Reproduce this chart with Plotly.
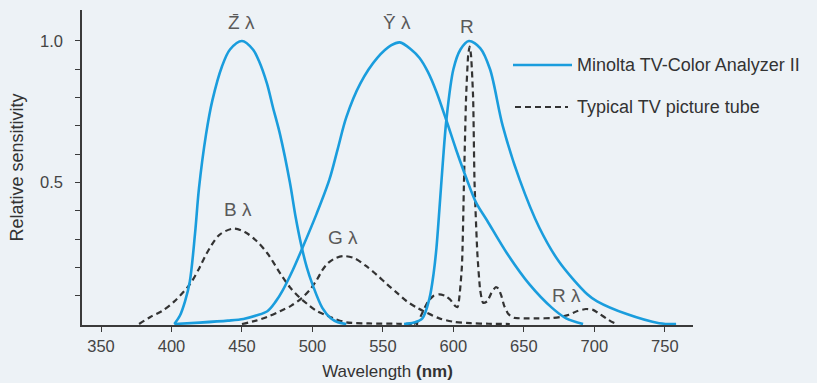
import plotly.graph_objects as go

# ---- data ----
z_wl = [402, 406, 409.6, 413, 416.7, 419.5, 424.5, 429, 435.8, 441.5, 450, 457.8, 462, 467.7, 472, 477, 484, 488, 492, 496, 500, 507, 513, 518, 524]
z_val = [0, 0.03, 0.08, 0.15, 0.32, 0.48, 0.67, 0.79, 0.91, 0.97, 1.0, 0.97, 0.93, 0.85, 0.765, 0.67, 0.5, 0.38, 0.28, 0.2, 0.14, 0.057, 0.02, 0.006, 0]

y_wl = [402, 420, 440, 451, 460, 468, 474, 479, 486, 493, 503, 512, 518, 524, 534, 546, 556, 562, 570, 576, 582, 588, 595, 602, 609.6, 616, 624, 638, 654, 670, 680, 692]
y_val = [0, 0.005, 0.012, 0.018, 0.03, 0.045, 0.08, 0.12, 0.19, 0.27, 0.39, 0.51, 0.62, 0.73, 0.85, 0.94, 0.985, 0.995, 0.97, 0.94, 0.89, 0.82, 0.72, 0.615, 0.51, 0.43, 0.365, 0.25, 0.14, 0.057, 0.02, 0]

r_wl = [565, 572, 578, 583, 586, 588, 590, 592.5, 595, 600, 605, 611, 619, 626, 635, 647, 661, 675, 695, 702, 723, 746, 758]
r_val = [0, 0.005, 0.02, 0.09, 0.18, 0.27, 0.4, 0.57, 0.72, 0.9, 0.97, 1.0, 0.975, 0.9, 0.7, 0.51, 0.34, 0.22, 0.105, 0.08, 0.035, 0.003, 0]

b_wl = [377, 385, 393, 402, 413, 420, 425, 434, 444, 452, 460, 468, 477, 484, 491, 497, 503, 509, 515, 524, 540, 560, 575]
b_val = [0, 0.025, 0.045, 0.08, 0.14, 0.2, 0.25, 0.315, 0.337, 0.325, 0.295, 0.25, 0.18, 0.13, 0.093, 0.068, 0.046, 0.032, 0.02, 0.006, 0.002, 0.001, 0]

g_wl = [450, 460, 468, 477, 485, 492, 498, 503, 507, 511, 516, 522, 530, 538, 546, 553, 560, 567, 574, 581, 590, 600, 612, 625, 640]
g_val = [0, 0.012, 0.025, 0.045, 0.065, 0.09, 0.12, 0.155, 0.19, 0.215, 0.232, 0.24, 0.232, 0.205, 0.172, 0.14, 0.11, 0.08, 0.058, 0.04, 0.02, 0.008, 0.003, 0.001, 0]

rp_wl = [572, 575, 578, 582, 586, 590, 594, 598, 601, 603, 606, 607.5, 609, 610.5, 611.5, 612.5, 614, 615, 617, 619, 621, 624, 627, 630, 632, 634, 636, 639, 643, 650, 660, 670, 676, 682, 688, 694, 699, 704, 709, 713, 716]
rp_val = [0, 0.01, 0.04, 0.08, 0.1, 0.105, 0.1, 0.085, 0.065, 0.06, 0.2, 0.5, 0.8, 0.95, 0.98, 0.95, 0.8, 0.5, 0.25, 0.12, 0.075, 0.08, 0.11, 0.13, 0.125, 0.1, 0.065, 0.035, 0.022, 0.02, 0.02, 0.021, 0.025, 0.033, 0.046, 0.053, 0.05, 0.035, 0.018, 0.006, 0]

x_ticks = [350, 400, 450, 500, 550, 600, 650, 700, 750]
y_ticks = [0.1, 0.2, 0.3, 0.4, 0.5, 0.6, 0.7, 0.8, 0.9, 1.0]
y_ticktext = ["", "", "", "", "0.5", "", "", "", "", "1.0"]

curve_labels = ["Z\u0304 \u03bb", "Y\u0304 \u03bb", "R", "B \u03bb", "G \u03bb", "R \u03bb"]
label_x = [450, 560, 610, 447, 522, 680.5]
label_y = [1.064, 1.064, 1.05, 0.403, 0.304, 0.102]

legend_names = ["Minolta TV-Color Analyzer II", "Typical TV picture tube"]

# ---- styles ----
BLUE = "#1a9ddd"
DARK = "#333333"
BG = "#edf2f6"
FONT = "Liberation Sans, Arial, sans-serif"

fig = go.Figure()

def solid(x, y):
    fig.add_trace(go.Scatter(x=x, y=y, mode="lines", showlegend=False,
                             line=dict(color=BLUE, width=2.6, shape="spline", smoothing=0.9),
                             hoverinfo="skip"))

def dashed(x, y, smooth=0.9):
    fig.add_trace(go.Scatter(x=x, y=y, mode="lines", showlegend=False,
                             line=dict(color=DARK, width=2.2, dash="6px,4px", shape="spline", smoothing=smooth),
                             hoverinfo="skip"))

dashed(b_wl, b_val)
dashed(g_wl, g_val)
dashed(rp_wl, rp_val, 0.5)
solid(z_wl, z_val)
solid(y_wl, y_val)
solid(r_wl, r_val)

for t, x, y in zip(curve_labels, label_x, label_y):
    fig.add_annotation(x=x, y=y, xref="x", yref="y", text=t, showarrow=False,
                       font=dict(family=FONT, size=19, color="#5a5a5a"))

# legend drawn as decoration
px0, pw, py0, ph = 82, 611, 325, 315
def pxx(p):
    return (p - px0) / pw
def pyy(p):
    return (py0 - p) / ph

fig.add_shape(type="line", xref="paper", yref="paper", x0=pxx(513), x1=pxx(572), y0=pyy(65), y1=pyy(65),
              line=dict(color=BLUE, width=2.6))
fig.add_shape(type="line", xref="paper", yref="paper", x0=pxx(515), x1=pxx(568), y0=pyy(107), y1=pyy(107),
              line=dict(color=DARK, width=2.2, dash="6px,4px"))
for name, yp in zip(legend_names, [65, 107]):
    fig.add_annotation(x=pxx(575), y=pyy(yp), xref="paper", yref="paper", text=name, showarrow=False,
                       xanchor="left", yanchor="middle", font=dict(family=FONT, size=18, color="#333333"))

axis_common = dict(showline=True, linecolor="#3a3a3a", linewidth=1.5, ticks="outside", ticklen=5,
                   tickwidth=1.3, tickcolor="#3a3a3a", showgrid=False, zeroline=False, automargin=False,
                   tickfont=dict(family=FONT, size=16.5, color="#444444"))

fig.update_layout(
    width=817, height=383,
    margin=dict(l=82, r=124, t=10, b=58),
    paper_bgcolor=BG, plot_bgcolor=BG,
    xaxis=dict(range=[336.5, 770], tickvals=x_ticks,
               title=dict(text="Wavelength <b>(nm)</b>", font=dict(family=FONT, size=17, color="#333333"), standoff=12),
               **axis_common),
    yaxis=dict(range=[-0.0035, 1.1095], tickvals=y_ticks, ticktext=y_ticktext, ticklabelstandoff=9,
               title=dict(text="Relative sensitivity", font=dict(family=FONT, size=18, color="#333333"), standoff=12),
               **axis_common),
    showlegend=False,
)

fig.write_html("out.html", config={"displayModeBar": False},
               post_script="document.body.style.margin='0px';document.body.style.background='%s';" % BG)
